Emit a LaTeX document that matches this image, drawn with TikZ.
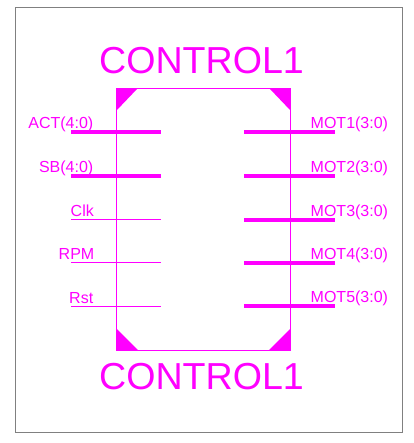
\documentclass[tikz,border=0pt]{standalone}
\usepackage{fontspec}
\setmainfont{Liberation Sans}
\definecolor{symcolor}{RGB}{255,0,255}
\tikzset{
  thinpin/.style={symcolor, line width=1pt},
  buspin/.style={symcolor, line width=4pt},
  pinlabel/.style={symcolor, font=\fontsize{16}{16}\selectfont, inner sep=0pt},
  titlelabel/.style={symcolor, font=\fontsize{37.6}{37.6}\selectfont, inner sep=0pt}
}
\begin{document}
\begin{tikzpicture}[x=1pt, y=-1pt]
\useasboundingbox (0,0) rectangle (413,443);

% define outer frame
\draw[gray, line width=1pt] (15.5,7.5) rectangle (402.5,432.5);

% set up coordinates
\coordinate (TL) at (116.5,88.5);
\coordinate (TR) at (290.5,88.5);
\coordinate (BR) at (290.5,350.5);
\coordinate (BL) at (116.5,350.5);

% draw symbol body
\draw[symcolor, line width=1pt] (TL) -- (TR) -- (BR) -- (BL) -- cycle;

% mark the corners
\fill[symcolor] (TL) -- +(21,0) -- +(0,22) -- cycle;
\fill[symcolor] (TR) -- +(-21,0) -- +(0,22) -- cycle;
\fill[symcolor] (BR) -- +(-22,0) -- +(0,-22) -- cycle;
\fill[symcolor] (BL) -- +(22,0) -- +(0,-22) -- cycle;

% draw titles
\node[titlelabel, anchor=base] (title) at (201.5,74) {CONTROL1};
\node[titlelabel, anchor=base] (name) at (201.5,389.5) {CONTROL1};

% left pins
\foreach \y/\name/\sty in {132/act/buspin, 176/sb/buspin, 219.5/clk/thinpin, 262.5/rpm/thinpin, 306.5/rst/thinpin} {
  \coordinate (\name a) at (71,\y);
  \coordinate (\name b) at (161,\y);
  \draw[\sty] (\name a) -- (\name b);
}
\node[pinlabel, anchor=base east] (act) at (93.5,129) {ACT(4:0)};
\node[pinlabel, anchor=base east] (sb) at (93.5,173) {SB(4:0)};
\node[pinlabel, anchor=base west] (clk) at (70.5,216) {Clk};
\node[pinlabel, anchor=base east] (rpm) at (94.5,259) {RPM};
\node[pinlabel, anchor=base west] (rst) at (69,303) {Rst};

% right pins
\foreach \y/\name in {132/mota, 176/motb, 219.5/motc, 263/motd, 306/mote} {
  \coordinate (\name a) at (244,\y);
  \coordinate (\name b) at (335,\y);
  \draw[buspin] (\name a) -- (\name b);
}
\node[pinlabel, anchor=base west] (mot1) at (310.5,129) {MOT1(3:0)};
\node[pinlabel, anchor=base west] (mot2) at (310.5,173) {MOT2(3:0)};
\node[pinlabel, anchor=base west] (mot3) at (310.5,216) {MOT3(3:0)};
\node[pinlabel, anchor=base west] (mot4) at (310.5,259) {MOT4(3:0)};
\node[pinlabel, anchor=base west] (mot5) at (310.5,302) {MOT5(3:0)};
\end{tikzpicture}
\end{document}
